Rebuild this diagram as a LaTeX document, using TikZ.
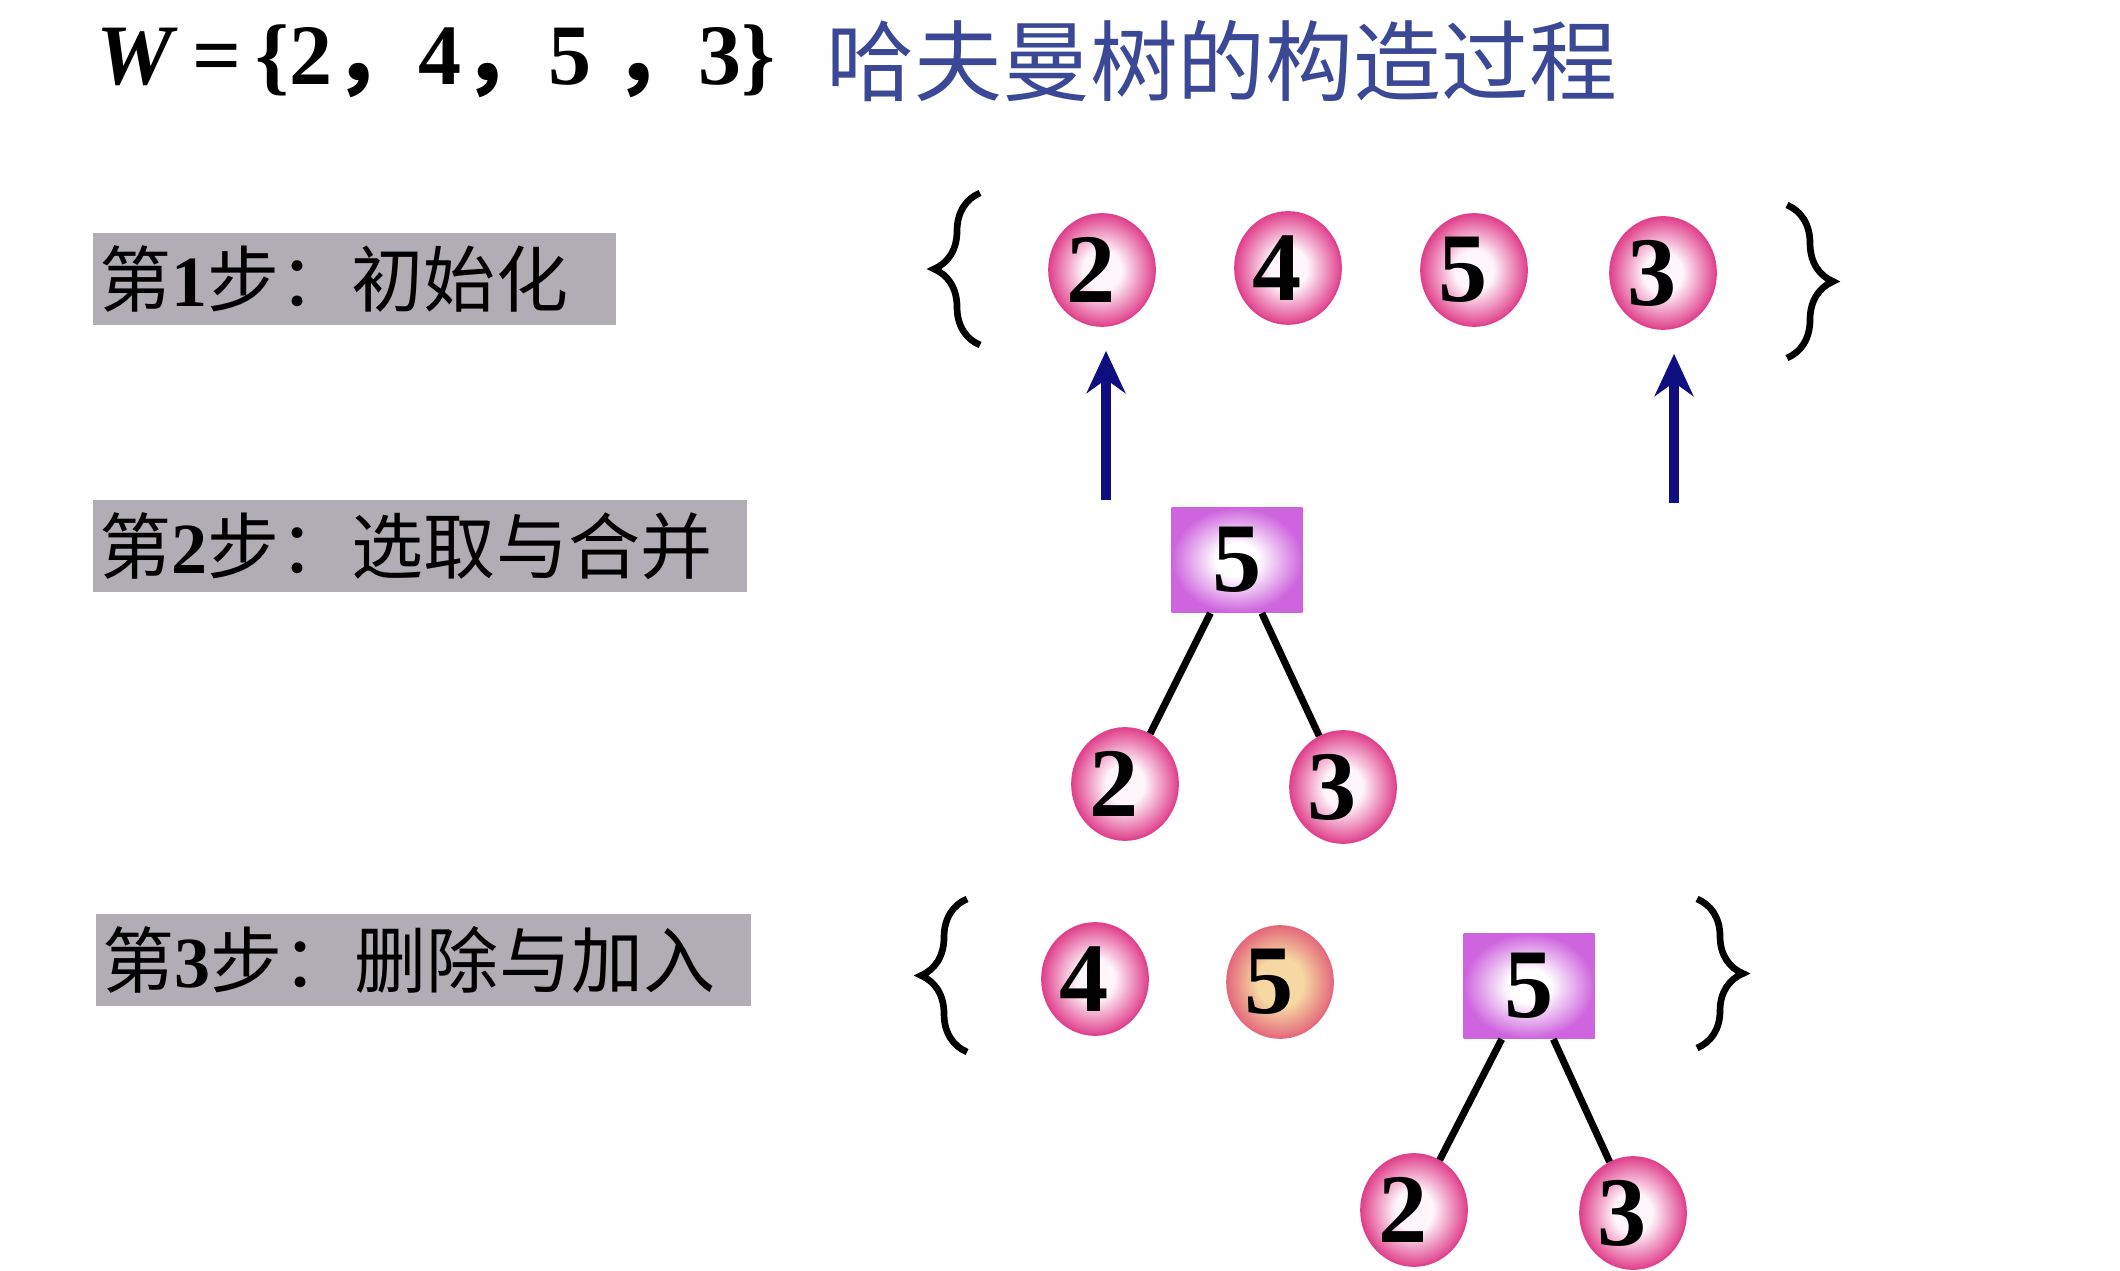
\documentclass[tikz,border=0pt]{standalone}
\usepackage{fontspec}
\setmainfont{Liberation Serif}
\newfontfamily\cjk{Noto Sans CJK SC}
\usepackage{xcolor}
\usepackage{tikz}
\usetikzlibrary{shapes.geometric, arrows.meta, positioning, decorations.pathreplacing}
\definecolor{ballpink}{RGB}{224, 66, 140}
\definecolor{ballcore}{RGB}{255, 246, 251}
\definecolor{boxpurple}{RGB}{206, 100, 222}
\definecolor{labelgray}{RGB}{176, 174, 180}
\definecolor{titleblue}{RGB}{58, 72, 150}
\definecolor{arrownavy}{RGB}{14, 14, 128}
\definecolor{peachcore}{RGB}{246, 216, 162}
\definecolor{peachrim}{RGB}{228, 106, 124}
\pgfdeclareradialshading{pinkball}{\pgfpoint{0bp}{0bp}}{color(0bp)=(ballcore); color(9bp)=(ballcore); color(25bp)=(ballpink); color(50bp)=(ballpink)}
\pgfdeclareradialshading{peachball}{\pgfpoint{0bp}{0bp}}{color(0bp)=(peachcore); color(11bp)=(peachcore); color(25bp)=(peachrim); color(50bp)=(peachrim)}
\pgfdeclareradialshading{purplebox}{\pgfpoint{0bp}{0bp}}{color(0bp)=(white); color(8bp)=(white); color(25bp)=(boxpurple); color(50bp)=(boxpurple)}

\begin{document}
\begin{tikzpicture}[
    ball/.style={ellipse, minimum width=1.06cm, minimum height=1.12cm, inner sep=0pt,
                 shading=pinkball, draw=ballpink, line width=0.5pt,
                 execute at begin node={\hspace*{-6pt}},
                 font=\fontsize{28}{28}\selectfont\bfseries},
    hiball/.style={ball, shading=peachball, draw=peachrim},
    sumbox/.style={rectangle, minimum width=1.31cm, minimum height=1.05cm, inner sep=0pt,
                   shading=purplebox, font=\fontsize{28}{28}\selectfont\bfseries},
    steplabel/.style={fill=labelgray, anchor=west, text width=#1, inner xsep=2pt,
                      minimum height=0.92cm, align=left, font=\cjk\fontsize{20.5}{20.5}\selectfont},
    edge/.style={line width=2pt},
    uparrow/.style={draw=arrownavy, line width=2.6pt, shorten >=0.24cm,
                    -{Stealth[length=12pt,width=11pt]}},
    setbrace/.style={decorate, decoration={brace, amplitude=0.46cm}, line width=1.9pt}
]
    % page
    \fill[white] (0,0) rectangle (21.2,12.7);

    % title
    \node[anchor=west, font=\fontsize{24.5}{24.5}\selectfont\bfseries] (wset) at (0.84,12.09)
        {\textit{W}\,=\,\{2{\cjk ，}4{\cjk ，}5 {\cjk ，}3\}};
    \node[anchor=west, text=titleblue, font=\cjk\fontsize{25}{25}\selectfont] (title) at (8.14,12.09)
        {哈夫曼树的构造过程};

    % step labels
    \node[steplabel=5.09cm] (step1) at (0.92,9.91) {第{\rmfamily\bfseries 1}步：初始化};
    \node[steplabel=6.40cm] (step2) at (0.92,7.24) {第{\rmfamily\bfseries 2}步：选取与合并};
    \node[steplabel=6.41cm] (step3) at (0.95,3.10) {第{\rmfamily\bfseries 3}步：删除与加入};

    % step 1: the initial set
    \draw[setbrace] (9.80,9.25) -- (9.80,10.77);
    \node[ball] (init2) at (11.02,10.00) {2};
    \node[ball] (init4) at (12.88,10.02) {4};
    \node[ball] (init5) at (14.74,10.00) {5};
    \node[ball] (init3) at (16.63,9.97) {3};
    \draw[setbrace] (17.87,10.65) -- (17.87,9.12);

    % step 2: pick the two smallest and merge
    \coordinate (pick2) at (11.06,7.70);
    \coordinate (pick3) at (16.74,7.67);
    \draw[uparrow] (pick2) -- (pick2 |- init2.south);
    \draw[uparrow] (pick3) -- (pick3 |- init3.south);
    \node[sumbox] (merge) at (12.37,7.10) {5};
    \node[ball] (merge2) at (11.25,4.86) {2};
    \node[ball] (merge3) at (13.43,4.83) {3};
    \draw[edge] (merge) -- (merge2);
    \draw[edge] (merge) -- (merge3);

    % step 3: remove and insert
    \draw[setbrace] (9.67,2.18) -- (9.67,3.71);
    \node[ball] (left4) at (10.95,2.91) {4};
    \node[hiball] (left5) at (12.80,2.88) {5};
    \node[sumbox] (tree) at (15.29,2.84) {5};
    \node[ball] (tree2) at (14.14,0.60) {2};
    \node[ball] (tree3) at (16.33,0.57) {3};
    \draw[edge] (tree) -- (tree2);
    \draw[edge] (tree) -- (tree3);
    \draw[setbrace] (16.97,3.71) -- (16.97,2.22);
\end{tikzpicture}
\end{document}
